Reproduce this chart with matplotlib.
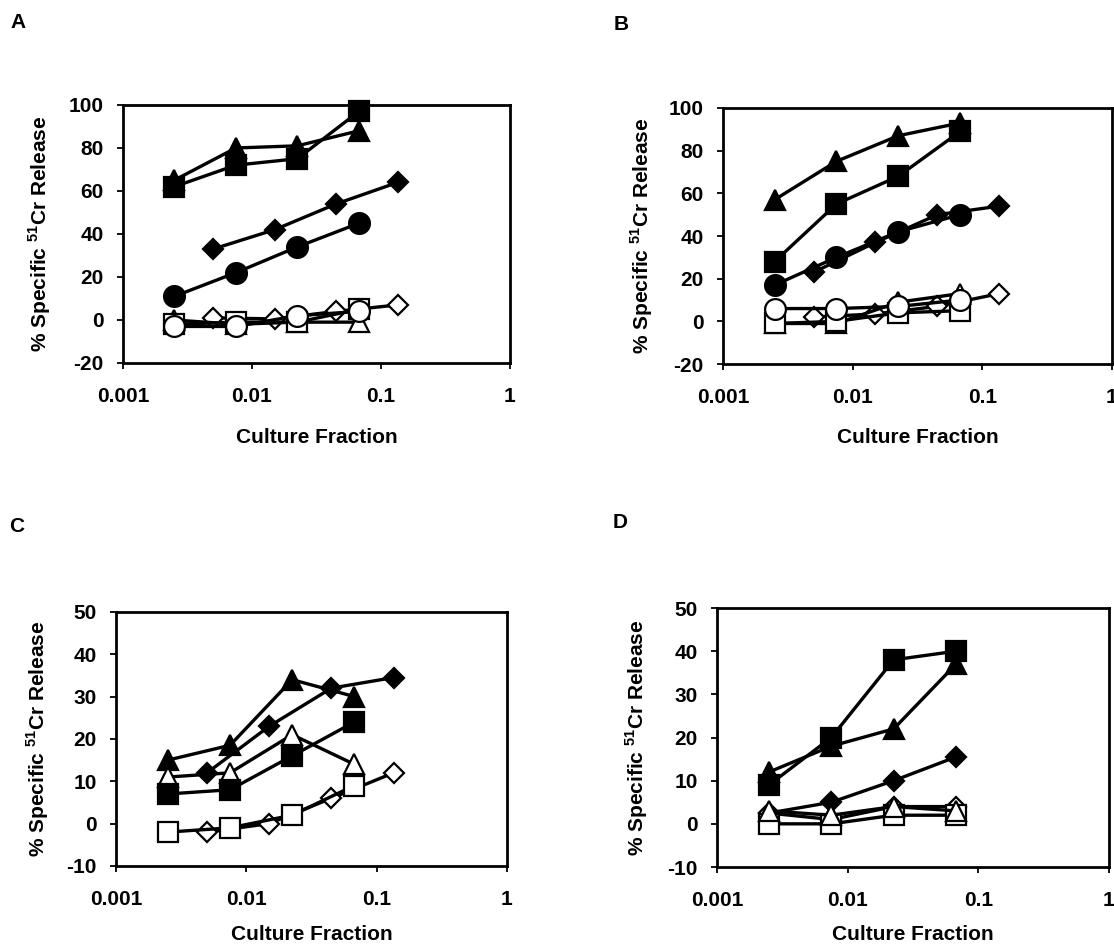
import matplotlib
matplotlib.use("Agg")
import matplotlib.pyplot as plt
from matplotlib.ticker import FixedLocator, FixedFormatter

plt.rcParams["font.family"] = ["Liberation Sans", "DejaVu Sans"]
plt.rcParams["font.weight"] = "bold"
plt.rcParams["mathtext.fontset"] = "custom"
plt.rcParams["mathtext.rm"] = "Liberation Sans:bold"
plt.rcParams["mathtext.bf"] = "Liberation Sans:bold"
plt.rcParams["axes.unicode_minus"] = False

# culture fractions (two dilution series)
x_odd = [0.0025, 0.0075, 0.0225, 0.0675]
x_even = [0.005, 0.015, 0.045, 0.135]

# panel A
a_tri_f = [65, 80, 81, 88]
a_sq_f = [62, 72, 75, 97]
a_dia_f = [33, 42, 54, 64]
a_circ_f = [11, 22, 34, 45]
a_dia_o = [1, 0.5, 4, 7]
a_sq_o = [-2, -1, -1, 5]
a_tri_o = [0, -2, -1, -1]
a_circ_o = [-3, -3, 2, 4]

# panel B
b_tri_f = [57, 75, 87, 93]
b_sq_f = [28, 55, 68, 89]
b_circ_f = [17, 30, 42, 50]
b_dia_f = [23, 37, 50, 54]
b_circ_o = [6, 6, 7, 10]
b_tri_o = [-1, -1, 9, 13]
b_sq_o = [-1, 0, 4, 5]
b_dia_o = [2, 3.5, 7, 13]

# panel C
c_tri_f = [15, 18.5, 34, 30]
c_dia_f = [12, 23, 32, 34.5]
c_tri_o = [11, 12, 21, 14]
c_sq_f = [7, 8, 16, 24]
c_sq_o = [-2, -1, 2, 9]
c_dia_o = [-2, 0, 6, 12]

# panel D
d_sq_f = [9, 20, 38, 40]
d_tri_f = [12, 18, 22, 37]
d_dia_f = [2.5, 5, 10, 15.5]
d_tri_o = [3, 2, 4, 3]
d_dia_o = [2.5, 1, 4, 4]
d_sq_o = [0, 0, 2, 2]

xtick_vals = [0.001, 0.01, 0.1, 1]
xtick_labels = ["0.001", "0.01", "0.1", "1"]

MS = {"s": 14, "o": 15, "^": 15, "D": 10}


def series(ax, x, y, marker, filled):
    ax.plot(x, y, color="black", lw=2.4, marker=marker, ms=MS[marker],
            mfc="black" if filled else "white", mec="black", mew=1.6,
            clip_on=False)


def style(ax, ylim, yticks, letter, letter_xy, ylab_x, xlab_y):
    ax.set_xscale("log")
    ax.set_xlim(0.001, 1)
    ax.set_ylim(*ylim)
    ax.xaxis.set_major_locator(FixedLocator(xtick_vals))
    ax.xaxis.set_major_formatter(FixedFormatter(xtick_labels))
    ax.xaxis.set_minor_locator(FixedLocator([]))
    ax.set_yticks(yticks)
    ax.tick_params(axis="both", direction="out", length=4, width=1.3,
                   labelsize=15)
    ax.tick_params(axis="x", pad=13)
    ax.tick_params(axis="y", pad=10)
    for sp in ax.spines.values():
        sp.set_linewidth(2.0)
    ax.set_ylabel(r"% Specific $^{51}$Cr Release", fontsize=15,
                  fontweight="bold")
    ax.yaxis.set_label_coords(ylab_x, 0.5)
    ax.text(0.5, xlab_y, "Culture Fraction", transform=ax.transAxes,
            ha="center", va="center", fontsize=15, fontweight="bold")
    fig.text(letter_xy[0] / 1114, 1 - letter_xy[1] / 949, letter,
             fontsize=15, fontweight="bold", ha="center", va="center")


fig = plt.figure(figsize=(11.14, 9.49), dpi=100)

axA = fig.add_axes([0.1104, 0.6175, 0.3474, 0.2719])
series(axA, x_odd, a_tri_f, "^", True)
series(axA, x_odd, a_sq_f, "s", True)
series(axA, x_even, a_dia_f, "D", True)
series(axA, x_odd, a_circ_f, "o", True)
series(axA, x_even, a_dia_o, "D", False)
series(axA, x_odd, a_tri_o, "^", False)
series(axA, x_odd, a_sq_o, "s", False)
series(axA, x_odd, a_circ_o, "o", False)
style(axA, (-20, 100), range(-20, 101, 20), "A", (18, 23), -0.18, -0.287)

axB = fig.add_axes([0.649, 0.6164, 0.3492, 0.2698])
series(axB, x_odd, b_tri_f, "^", True)
series(axB, x_odd, b_sq_f, "s", True)
series(axB, x_even, b_dia_f, "D", True)
series(axB, x_odd, b_circ_f, "o", True)
series(axB, x_even, b_dia_o, "D", False)
series(axB, x_odd, b_tri_o, "^", False)
series(axB, x_odd, b_sq_o, "s", False)
series(axB, x_odd, b_circ_o, "o", False)
style(axB, (-20, 100), range(-20, 101, 20), "B", (621, 24), -0.175, -0.285)

axC = fig.add_axes([0.1041, 0.0875, 0.351, 0.2677])
series(axC, x_odd, c_tri_f, "^", True)
series(axC, x_even, c_dia_f, "D", True)
series(axC, x_odd, c_tri_o, "^", False)
series(axC, x_odd, c_sq_f, "s", True)
series(axC, x_even, c_dia_o, "D", False)
series(axC, x_odd, c_sq_o, "s", False)
style(axC, (-10, 50), range(-10, 51, 10), "C", (17, 527), -0.166, -0.268)

axD = fig.add_axes([0.6436, 0.0864, 0.3519, 0.2729])
series(axD, x_odd, d_tri_f, "^", True)
series(axD, x_odd, d_sq_f, "s", True)
series(axD, x_odd, d_dia_f, "D", True)
series(axD, x_odd, d_dia_o, "D", False)
series(axD, x_odd, d_sq_o, "s", False)
series(axD, x_odd, d_tri_o, "^", False)
style(axD, (-10, 50), range(-10, 51, 10), "D", (620, 522), -0.171, -0.262)

fig.savefig("out.png", dpi=100)
